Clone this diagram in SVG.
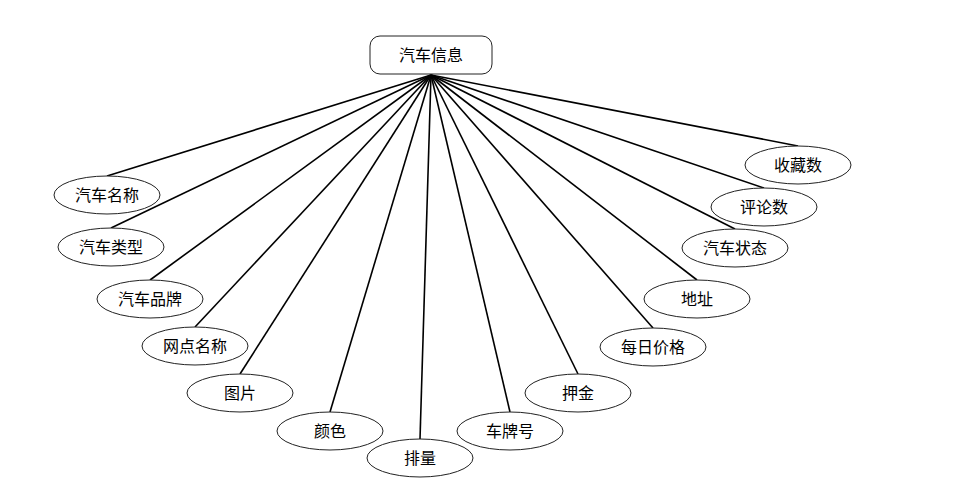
<svg xmlns="http://www.w3.org/2000/svg" width="980" height="486" viewBox="0 0 980 486">
<style>
.n{fill:#fff;stroke:#222;stroke-width:1}
.t{font-family:"Liberation Sans","Noto Sans CJK SC",sans-serif;font-size:16px;fill:#000;text-anchor:middle;dominant-baseline:central}
.c line{stroke:#000;stroke-width:1.6}
</style>
<rect width="980" height="486" fill="#fff"/>
<g class="c" id="connectors">
<line x1="431" y1="75" x2="107" y2="176"/>
<line x1="431" y1="75" x2="111" y2="228"/>
<line x1="431" y1="75" x2="150" y2="280"/>
<line x1="431" y1="75" x2="195" y2="327"/>
<line x1="431" y1="75" x2="240" y2="374"/>
<line x1="431" y1="75" x2="330" y2="412"/>
<line x1="431" y1="75" x2="420" y2="439"/>
<line x1="431" y1="75" x2="510" y2="412"/>
<line x1="431" y1="75" x2="578" y2="374"/>
<line x1="431" y1="75" x2="653" y2="328"/>
<line x1="431" y1="75" x2="697" y2="280"/>
<line x1="431" y1="75" x2="735" y2="229"/>
<line x1="431" y1="75" x2="764" y2="188"/>
<line x1="431" y1="75" x2="798" y2="146"/>
</g>
<g id="root"><rect class="n" x="370" y="36" width="122" height="38" rx="10"/><text class="t" x="431" y="55">汽车信息</text></g>
<g id="n1"><ellipse class="n" cx="107" cy="195" rx="53" ry="19"/><text class="t" x="107" y="195">汽车名称</text></g>
<g id="n2"><ellipse class="n" cx="111" cy="247" rx="53" ry="19"/><text class="t" x="111" y="247">汽车类型</text></g>
<g id="n3"><ellipse class="n" cx="150" cy="299" rx="53" ry="19"/><text class="t" x="150" y="299">汽车品牌</text></g>
<g id="n4"><ellipse class="n" cx="195" cy="346" rx="53" ry="19"/><text class="t" x="195" y="346">网点名称</text></g>
<g id="n5"><ellipse class="n" cx="240" cy="393" rx="53" ry="19"/><text class="t" x="240" y="393">图片</text></g>
<g id="n6"><ellipse class="n" cx="330" cy="431" rx="53" ry="19"/><text class="t" x="330" y="431">颜色</text></g>
<g id="n7"><ellipse class="n" cx="420" cy="458" rx="53" ry="19"/><text class="t" x="420" y="458">排量</text></g>
<g id="n8"><ellipse class="n" cx="510" cy="431" rx="53" ry="19"/><text class="t" x="510" y="431">车牌号</text></g>
<g id="n9"><ellipse class="n" cx="578" cy="393" rx="53" ry="19"/><text class="t" x="578" y="393">押金</text></g>
<g id="n10"><ellipse class="n" cx="653" cy="347" rx="53" ry="19"/><text class="t" x="653" y="347">每日价格</text></g>
<g id="n11"><ellipse class="n" cx="697" cy="299" rx="53" ry="19"/><text class="t" x="697" y="299">地址</text></g>
<g id="n12"><ellipse class="n" cx="735" cy="248" rx="53" ry="19"/><text class="t" x="735" y="248">汽车状态</text></g>
<g id="n13"><ellipse class="n" cx="764" cy="207" rx="53" ry="19"/><text class="t" x="764" y="207">评论数</text></g>
<g id="n14"><ellipse class="n" cx="798" cy="165" rx="53" ry="19"/><text class="t" x="798" y="165">收藏数</text></g>
</svg>
